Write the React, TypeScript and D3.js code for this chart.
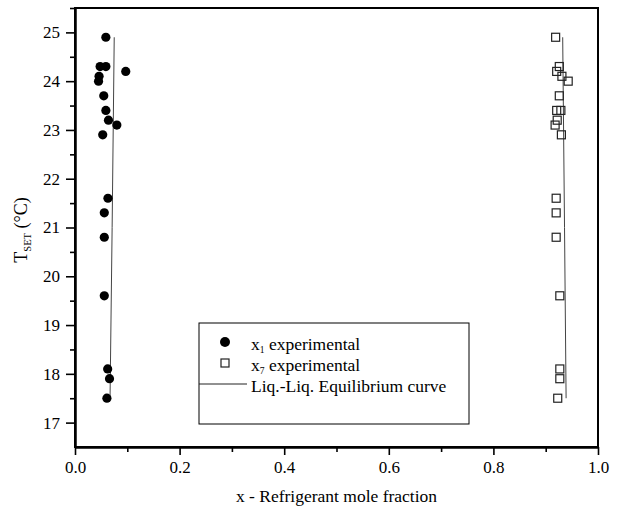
import React, { useEffect, useRef } from "react";
import * as d3 from "d3";

// x1 (refrigerant-lean phase) experimental points
const x1Frac = [0.059, 0.048, 0.059, 0.097, 0.046, 0.045, 0.055, 0.059, 0.064, 0.08, 0.053, 0.063, 0.056, 0.056, 0.056, 0.0625, 0.066, 0.061];
const x1Temp = [24.9, 24.3, 24.3, 24.2, 24.1, 24.0, 23.7, 23.4, 23.2, 23.1, 22.9, 21.6, 21.3, 20.8, 19.6, 18.1, 17.9, 17.5];

// x7 (refrigerant-rich phase) experimental points
const x7Frac = [0.919, 0.926, 0.921, 0.931, 0.943, 0.926, 0.921, 0.929, 0.922, 0.918, 0.93, 0.92, 0.92, 0.92, 0.927, 0.927, 0.927, 0.923];
const x7Temp = [24.9, 24.3, 24.2, 24.1, 24.0, 23.7, 23.4, 23.4, 23.2, 23.1, 22.9, 21.6, 21.3, 20.8, 19.6, 18.1, 17.9, 17.5];

// equilibrium curve branches
const curveTemp = [24.9, 21.0, 17.5];
const curveLeft = [0.075, 0.071, 0.067];
const curveRight = [0.9325, 0.936, 0.939];

const xTicks = [0, 0.2, 0.4, 0.6, 0.8, 1.0];
const xMinorTicks = [0.1, 0.3, 0.5, 0.7, 0.9];
const yTicks = [17, 18, 19, 20, 21, 22, 23, 24, 25];
const yMinorTicks = [17.5, 18.5, 19.5, 20.5, 21.5, 22.5, 23.5, 24.5, 25.5];

const legendLabels = ["experimental", "experimental", "Liq.-Liq. Equilibrium curve"];

const W = 621;
const H = 511;
const margin = { top: 8, right: 23, bottom: 64, left: 75 };
const font = "'Liberation Serif', 'Times New Roman', serif";

export default function App() {
  const svgRef = useRef<SVGSVGElement>(null);

  useEffect(() => {
    const svg = d3.select(svgRef.current);
    svg.selectAll("*").remove();

    const x = d3.scaleLinear().domain([0, 1]).range([margin.left, W - margin.right]);
    const y = d3.scaleLinear().domain([16.5, 25.5]).range([H - margin.bottom, margin.top]);

    const g = svg.append("g");

    // frame
    g.append("rect")
      .attr("x", x(0))
      .attr("y", y(25.5))
      .attr("width", x(1) - x(0))
      .attr("height", y(16.5) - y(25.5))
      .attr("fill", "none")
      .attr("stroke", "#000")
      .attr("stroke-width", 2);

    // x axis
    const xAxis = g.append("g").attr("transform", `translate(0,${y(16.5)})`);
    xAxis.call(
      d3.axisBottom(x).tickValues(xTicks).tickFormat(d3.format(".1f")).tickSizeInner(8).tickSizeOuter(0).tickPadding(6)
    );
    xAxis.append("g").call(d3.axisBottom(x).tickValues(xMinorTicks).tickFormat(() => "").tickSizeInner(5).tickSizeOuter(0));

    // y axis
    const yAxis = g.append("g").attr("transform", `translate(${x(0)},0)`);
    yAxis.call(d3.axisLeft(y).tickValues(yTicks).tickFormat(d3.format("d")).tickSizeInner(9).tickSizeOuter(0).tickPadding(6));
    yAxis.append("g").call(d3.axisLeft(y).tickValues(yMinorTicks).tickFormat(() => "").tickSizeInner(5).tickSizeOuter(0));

    g.selectAll(".domain").attr("stroke-width", 2);
    g.selectAll(".tick line").attr("stroke-width", 1.6);
    g.selectAll(".tick text").attr("font-family", font).attr("font-size", 17).attr("fill", "#000");

    // curves
    const line = d3
      .line<number>()
      .x((d) => x(d))
      .y((_, i) => y(curveTemp[i]));
    [curveLeft, curveRight].forEach((c) => {
      g.append("path").attr("d", line(c)).attr("fill", "none").attr("stroke", "#444").attr("stroke-width", 1);
    });

    // x1 points
    g.append("g")
      .selectAll("circle")
      .data(x1Frac)
      .enter()
      .append("circle")
      .attr("cx", (d) => x(d))
      .attr("cy", (_, i) => y(x1Temp[i]))
      .attr("r", 4.6)
      .attr("fill", "#000");

    // x7 points
    const s = 8;
    g.append("g")
      .selectAll("rect")
      .data(x7Frac)
      .enter()
      .append("rect")
      .attr("x", (d) => x(d) - s / 2)
      .attr("y", (_, i) => y(x7Temp[i]) - s / 2)
      .attr("width", s)
      .attr("height", s)
      .attr("fill", "none")
      .attr("stroke", "#222")
      .attr("stroke-width", 1.2);

    // axis titles
    svg.append("text")
      .attr("x", (x(0) + x(1)) / 2)
      .attr("y", 502)
      .attr("text-anchor", "middle")
      .attr("font-family", font)
      .attr("font-size", 17.5)
      .text("x - Refrigerant mole fraction");

    const yt = svg.append("text")
      .attr("transform", `translate(27,230) rotate(-90)`)
      .attr("text-anchor", "middle")
      .attr("font-family", font)
      .attr("font-size", 18);
    yt.append("tspan").text("T");
    yt.append("tspan").attr("font-size", 10.5).attr("dy", 4).text("SET");
    yt.append("tspan").attr("dy", -4).text(" (°C)");

    // legend
    const lg = svg.append("g");
    lg.append("rect")
      .attr("x", 199)
      .attr("y", 323)
      .attr("width", 270)
      .attr("height", 101)
      .attr("fill", "#fff")
      .attr("stroke", "#000")
      .attr("stroke-width", 1);
    const rows = [347, 368, 389];
    lg.append("circle").attr("cx", 225).attr("cy", rows[0] - 5).attr("r", 5).attr("fill", "#000");
    lg.append("rect").attr("x", 221).attr("y", rows[1] - 9).attr("width", 8).attr("height", 8).attr("fill", "none").attr("stroke", "#222").attr("stroke-width", 1.2);
    lg.append("line").attr("x1", 199).attr("x2", 247).attr("y1", rows[2] - 5).attr("y2", rows[2] - 5).attr("stroke", "#222").attr("stroke-width", 1);
    const subs = ["1", "7"];
    legendLabels.forEach((lab, i) => {
      const t = lg.append("text").attr("x", 251).attr("y", rows[i] + 3).attr("font-family", font).attr("font-size", 17.5);
      if (i < 2) {
        t.append("tspan").text("x");
        t.append("tspan").attr("font-size", 9.5).attr("dy", 3).text(subs[i]);
        t.append("tspan").attr("dy", -3).text(" " + lab);
      } else {
        t.text(lab);
      }
    });
  }, []);

  return (
    <div style={{ position: "fixed", left: 0, top: 0, background: "#fff" }}>
      <svg ref={svgRef} width={W} height={H} style={{ display: "block" }}></svg>
    </div>
  );
}
